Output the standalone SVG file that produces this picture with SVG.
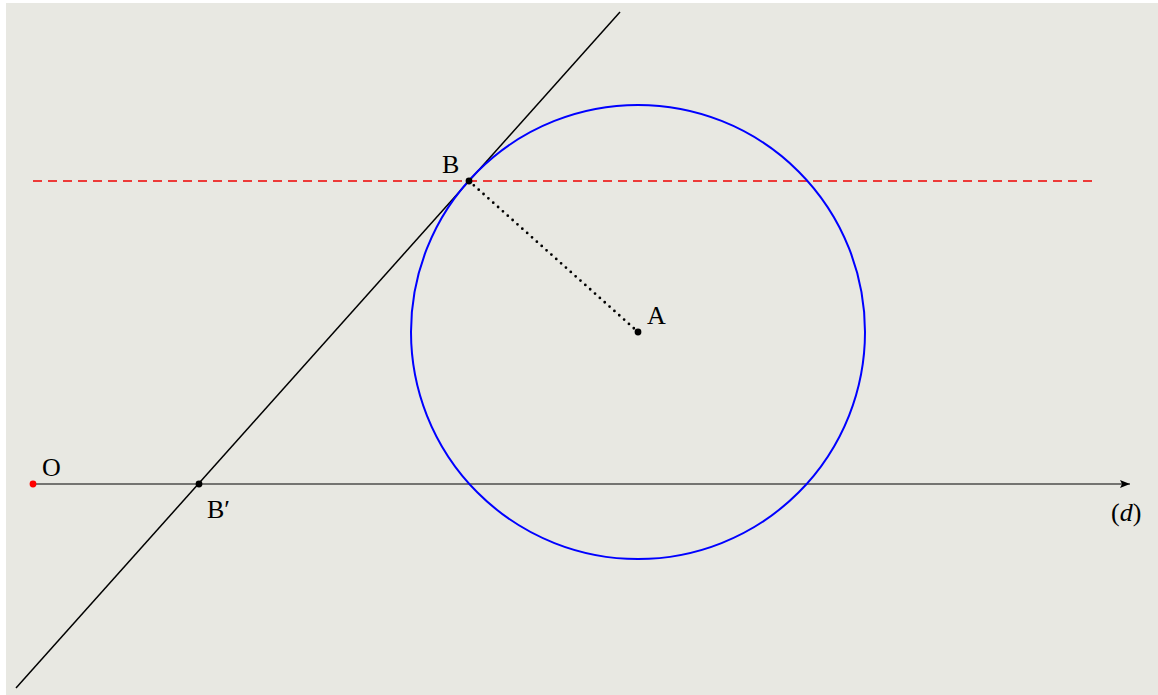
<svg xmlns="http://www.w3.org/2000/svg" width="1158" height="695" viewBox="0 0 1158 695">
<defs>
<style>
.lbl{font-family:"Liberation Serif","DejaVu Serif",serif;font-size:26px;fill:#000}
.pt{fill:#000}
</style>
<marker id="arr" viewBox="0 0 10 10" refX="10" refY="5" markerWidth="10" markerHeight="10" markerUnits="userSpaceOnUse" orient="auto">
<path d="M0,1 L10,5 L0,9 L2,5 Z" fill="#000"/>
</marker>
</defs>
<rect x="6" y="3" width="1152" height="692" fill="#e8e8e2"/>
<g id="connectors">
<line x1="33" y1="484" x2="1130" y2="484" stroke="#000" stroke-width="1.2" marker-end="url(#arr)"/>
<line x1="33" y1="181" x2="1093" y2="181" stroke="#ee0000" stroke-width="1.5" stroke-dasharray="9,6"/>
<line x1="16" y1="688" x2="620" y2="12" stroke="#000" stroke-width="1.5"/>
<line x1="469" y1="181" x2="638" y2="332" stroke="#000" stroke-width="2.8" stroke-dasharray="0,6.5" stroke-linecap="round"/>
</g>
<g id="circle">
<circle cx="638" cy="332" r="227" fill="none" stroke="#0000ff" stroke-width="2"/>
</g>
<g id="node-B">
<circle class="pt" cx="469" cy="181" r="3.4"/>
<text class="lbl" x="442" y="173">B</text>
</g>
<g id="node-A">
<circle class="pt" cx="638" cy="332" r="3.4"/>
<text class="lbl" x="647" y="324">A</text>
</g>
<g id="node-O">
<circle cx="33" cy="484" r="3.4" fill="#ff0000"/>
<text class="lbl" x="42" y="476">O</text>
</g>
<g id="node-Bp">
<circle class="pt" cx="199" cy="484" r="3.4"/>
<text class="lbl" x="207" y="518">B′</text>
</g>
<g id="label-d">
<text class="lbl" x="1111" y="521">(<tspan font-style="italic">d</tspan>)</text>
</g>
</svg>
